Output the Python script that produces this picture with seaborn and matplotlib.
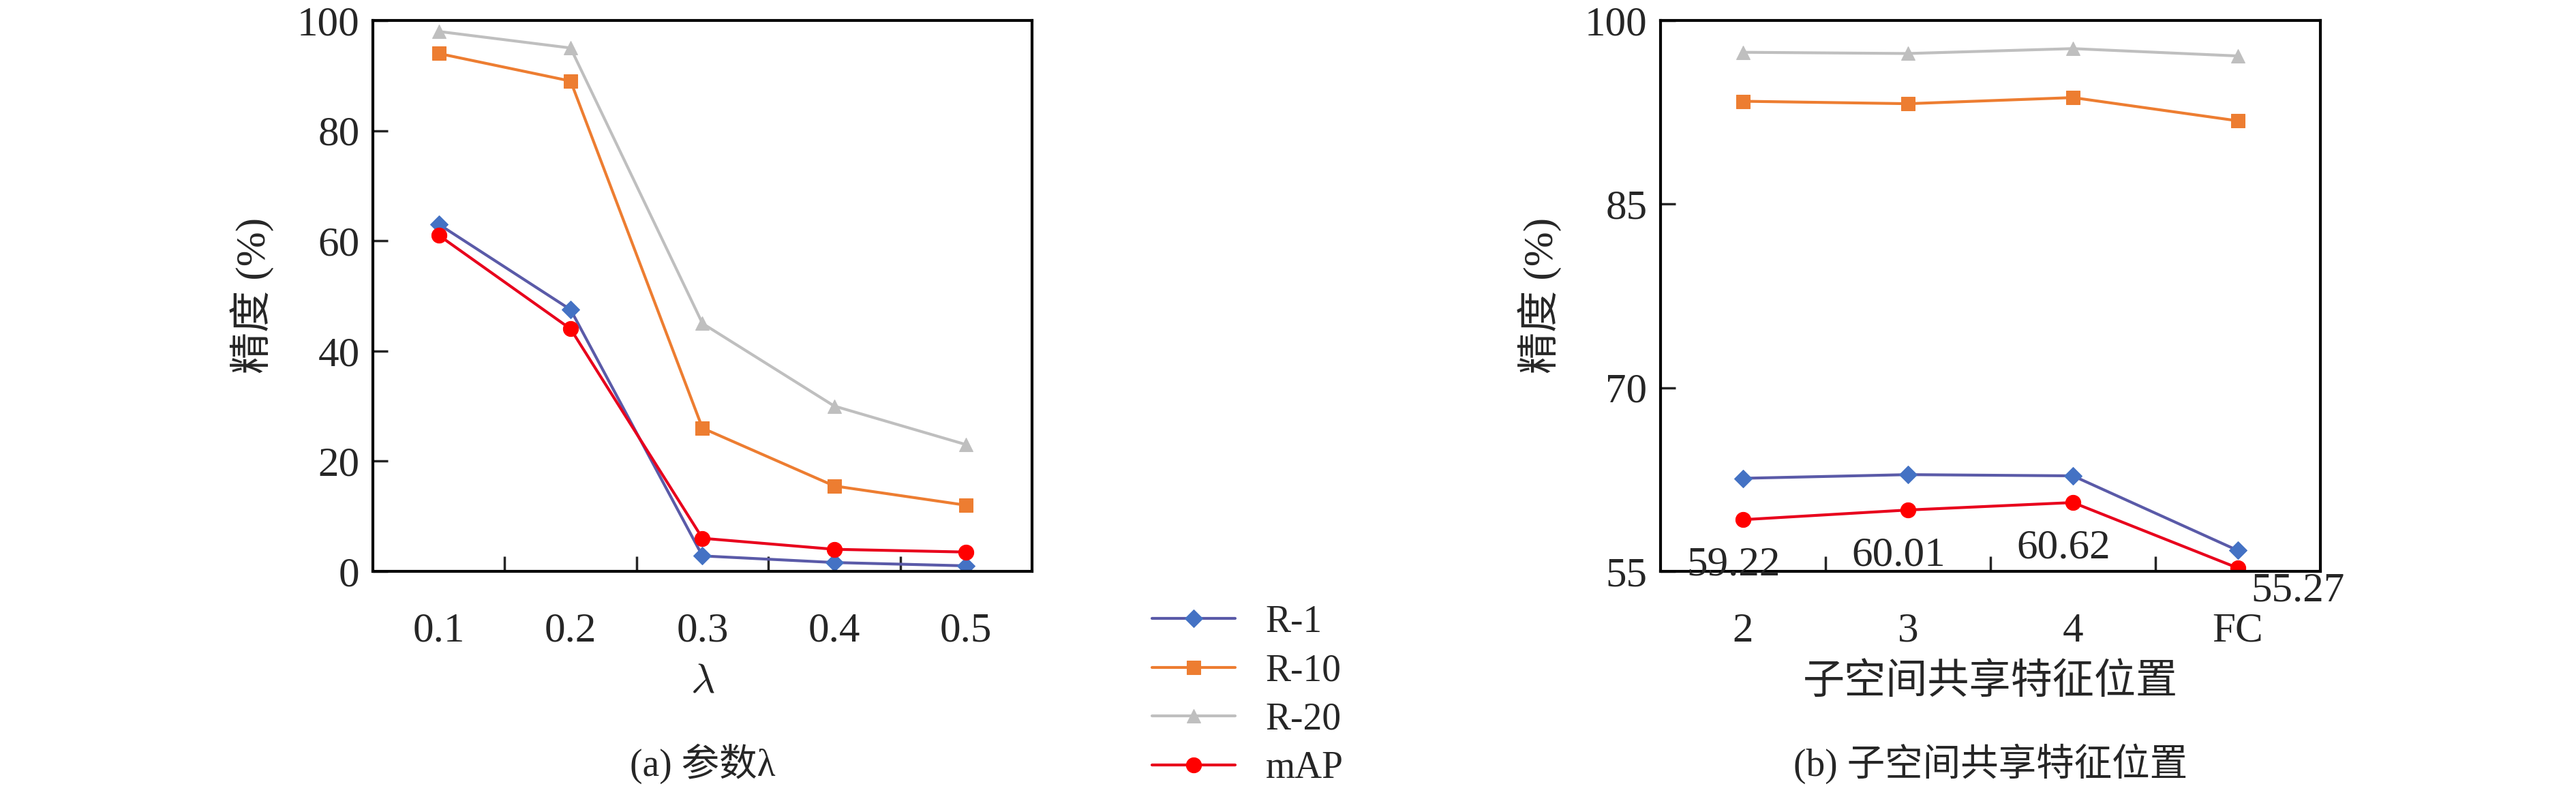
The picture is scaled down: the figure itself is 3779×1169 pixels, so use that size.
import matplotlib.pyplot as plt
import pandas as pd
import seaborn as sns

# data
lam_labels = ['0.1', '0.2', '0.3', '0.4', '0.5']
lam_r1 = [63.0, 47.5, 2.8, 1.6, 1.0]
lam_r10 = [94.0, 89.0, 26.0, 15.5, 12.0]
lam_r20 = [98.0, 95.0, 45.0, 30.0, 23.0]
lam_map = [61.0, 44.0, 6.0, 4.0, 3.5]

pos_labels = ['2', '3', '4', 'FC']
pos_r1 = [62.6, 62.9, 62.8, 56.7]
pos_r10 = [93.4, 93.2, 93.7, 91.8]
pos_r20 = [97.4, 97.3, 97.7, 97.1]
pos_map = [59.22, 60.01, 60.62, 55.27]

series = ['R-1', 'R-10', 'R-20', 'mAP']
styles = {
    'R-1': dict(color='#5a5aa8', marker='D', mfc='#4472C4', mec='#4472C4', ms=13),
    'R-10': dict(color='#ED7D31', marker='s', mfc='#ED7D31', mec='#ED7D31', ms=15),
    'R-20': dict(color='#BFBFBF', marker='^', mfc='#BFBFBF', mec='#BFBFBF', ms=15),
    'mAP': dict(color='#E8001C', marker='o', mfc='#FF0000', mec='#FF0000', ms=16),
}

sns.set_style('white')
plt.rcParams['font.family'] = ['Liberation Serif', 'Noto Sans CJK SC', 'DejaVu Sans']
plt.rcParams['mathtext.fontset'] = 'cm'
FS = 44

fig = plt.figure(figsize=(37.8, 11.69), dpi=100)
ax1 = fig.add_axes([547 / 3780, 1 - 838 / 1169, (1514 - 547) / 3780, (838 - 30) / 1169])
ax2 = fig.add_axes([2436 / 3780, 1 - 838 / 1169, (3404 - 2436) / 3780, (838 - 30) / 1169])


def draw(ax, labels, vals):
    df = pd.DataFrame({'x': list(range(len(labels))) * 4,
                       'y': sum(vals, []),
                       's': sum([[s] * len(labels) for s in series], [])})
    for s in series:
        sub = df[df['s'] == s]
        st = styles[s]
        sns.lineplot(data=sub, x='x', y='y', ax=ax, color=st['color'], lw=3,
                     marker=st['marker'], markersize=st['ms'],
                     markerfacecolor=st['mfc'], markeredgecolor=st['mec'], label=s)
    n = len(labels)
    ax.set_xlim(-0.5, n - 0.5)
    ax.set_xticks(range(n))
    ax.set_xticklabels(labels, fontsize=FS)
    ax.set_xticks([i + 0.5 for i in range(n - 1)], minor=True)
    ax.tick_params(axis='x', which='major', bottom=False, pad=40)
    ax.tick_params(axis='x', which='minor', bottom=True, direction='in', length=16, width=2.5)
    ax.tick_params(axis='y', left=True, direction='in', length=16, width=2.5, labelsize=FS, pad=14)
    for sp in ax.spines.values():
        sp.set_linewidth(3)
        sp.set_color('black')
    ax.set_ylabel('精度 (%)', fontsize=FS, labelpad=24)
    ax.get_legend().remove()


draw(ax1, lam_labels, [lam_r1, lam_r10, lam_r20, lam_map])
ax1.set_ylim(0, 100)
ax1.set_yticks([0, 20, 40, 60, 80, 100])
ax1.set_xlabel(r'$\lambda$', fontsize=FS, labelpad=14)

draw(ax2, pos_labels, [pos_r1, pos_r10, pos_r20, pos_map])
ax2.set_ylim(55, 100)
ax2.set_yticks([55, 70, 85, 100])
ax2.set_xlabel('子空间共享特征位置', fontsize=FS, labelpad=14)
for i, v in enumerate(pos_map):
    if i < 3:
        ax2.annotate(f'{v:.2f}', (i, v), xytext=(-10, -28), textcoords='offset points',
                     ha='center', va='top', fontsize=FS)
    else:
        ax2.annotate(f'{v:.2f}', (i, v), xytext=(14, -4), textcoords='offset points',
                     ha='left', va='top', fontsize=FS, annotation_clip=False)

handles, lbls = ax1.get_legend_handles_labels()
fig.legend(handles, lbls, loc='center left', bbox_to_anchor=(1640 / 3780, 1 - 1020 / 1169),
           frameon=False, fontsize=FS - 4, handlelength=2.2, labelspacing=0.35)

fig.text((547 + 1514) / 2 / 3780, 1 - 1120 / 1169, '(a) 参数λ', ha='center', va='center', fontsize=FS - 4)
fig.text((2436 + 3404) / 2 / 3780, 1 - 1120 / 1169, '(b) 子空间共享特征位置', ha='center', va='center', fontsize=FS - 4)

fig.savefig('out.png', dpi=100, facecolor='white')
